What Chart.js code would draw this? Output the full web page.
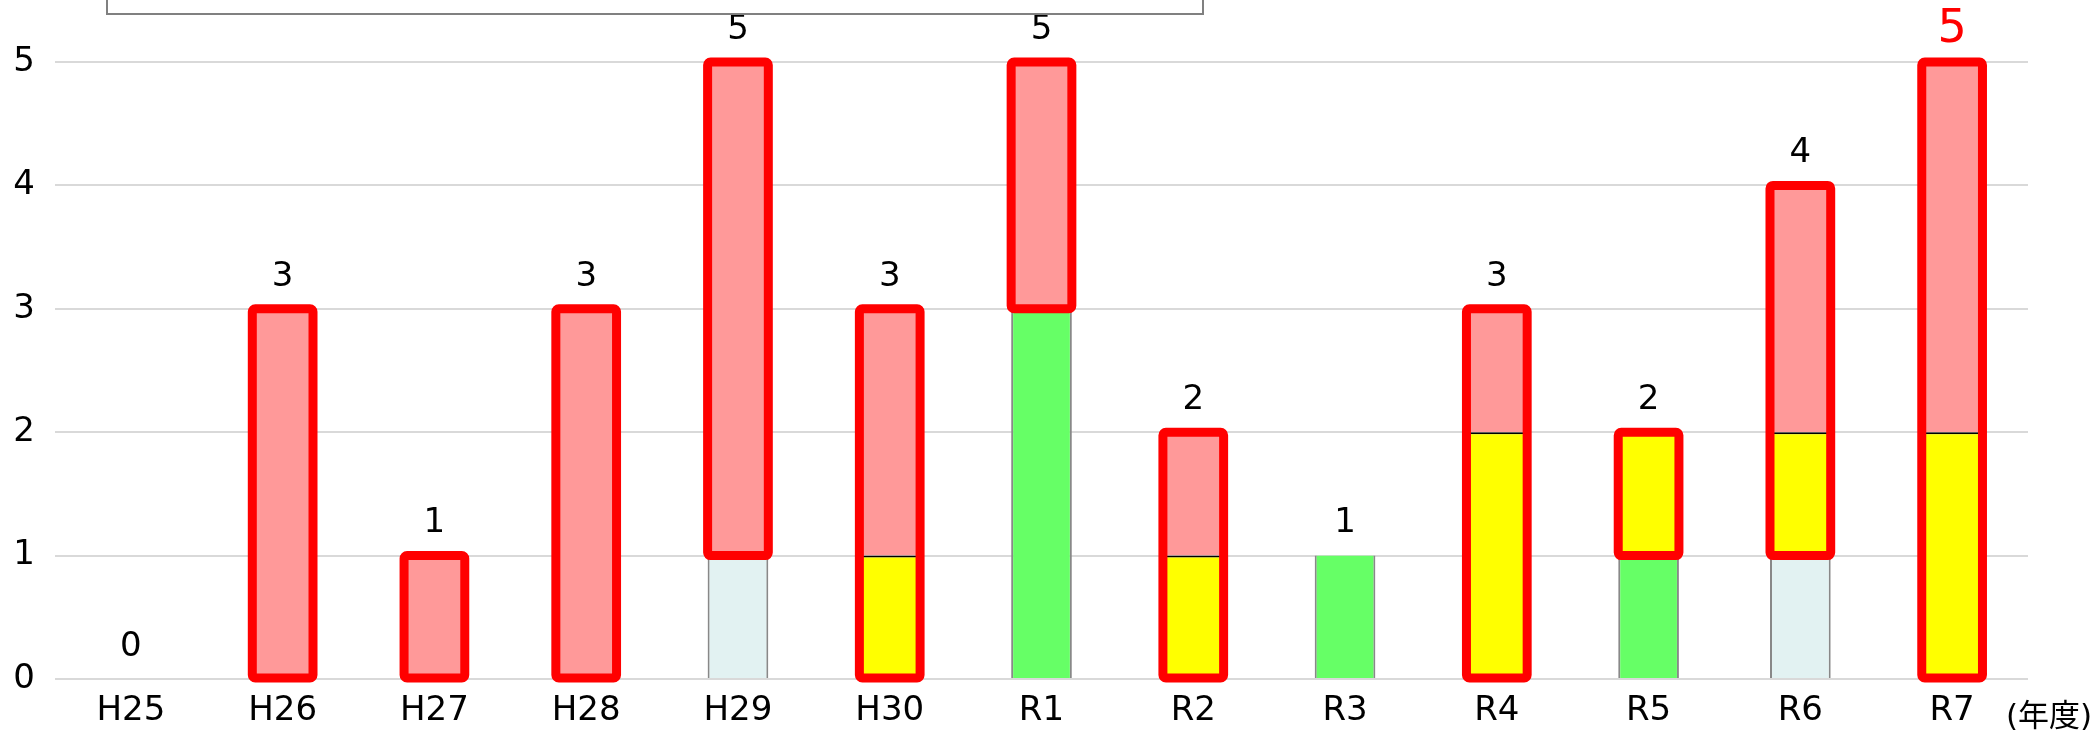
<!DOCTYPE html>
<html lang="ja">
<head>
<meta charset="utf-8">
<title>年度別件数</title>
<script src="https://cdn.jsdelivr.net/npm/chart.js@4/dist/chart.umd.min.js"></script>
<style>
  html, body { margin: 0; padding: 0; background: #fff; }
  #wrap { position: relative; width: 2096px; height: 731px; overflow: hidden; }
  #legend-box {
    position: absolute; left: 106px; top: -50px; width: 1094px; height: 61px;
    border: 2px solid #808080; background: #fff;
  }
</style>
</head>
<body>
<div id="wrap">
  <canvas id="chart"></canvas>
  <div id="legend-box"></div>
</div>
<script>
// 年度ごとの件数（積み上げ）
const years = ['H25', 'H26', 'H27', 'H28', 'H29', 'H30', 'R1', 'R2', 'R3', 'R4', 'R5', 'R6', 'R7'];
const cyanVals   = [0, 0, 0, 0, 1, 0, 0, 0, 0, 0, 0, 1, 0];
const greenVals  = [0, 0, 0, 0, 0, 0, 3, 0, 1, 0, 1, 0, 0];
const yellowVals = [0, 0, 0, 0, 0, 1, 0, 1, 0, 2, 1, 1, 2];
const pinkVals   = [0, 3, 1, 3, 4, 2, 2, 1, 0, 1, 0, 2, 3];
const yTicks = [0, 1, 2, 3, 4, 5];

const FONT = '"DejaVu Sans", "Noto Sans CJK JP", sans-serif';
const COLORS = {
  cyan: '#E2F2F2',
  green: '#66FF66',
  yellow: '#FFFF00',
  pink: '#FF9999',
  red: '#FF0000',
  grid: '#D9D9D9',
};

// 0 は描かない
const nz = arr => arr.map(v => (v === 0 ? null : v));

// 黄・ピンクの部分を赤枠で囲む
const outlinePlugin = {
  id: 'outline',
  afterDatasetsDraw(chart) {
    const ctx = chart.ctx;
    ctx.save();
    ctx.strokeStyle = COLORS.red;
    ctx.lineWidth = 9;
    ctx.lineJoin = 'round';
    years.forEach((_, i) => {
      let top = Infinity, bottom = -Infinity, left = 0, right = 0, found = false;
      chart.data.datasets.forEach((ds, di) => {
        if (!ds.outlined || !ds.data[i]) return;
        const el = chart.getDatasetMeta(di).data[i];
        top = Math.min(top, el.y);
        bottom = Math.max(bottom, el.base);
        left = el.x - el.width / 2;
        right = el.x + el.width / 2;
        found = true;
      });
      if (!found) return;
      ctx.beginPath();
      ctx.roundRect(left, top, right - left, bottom - top, 3);
      ctx.stroke();
    });
    ctx.restore();
  },
};

// 合計値ラベルと単位
const totalsPlugin = {
  id: 'totals',
  afterDraw(chart) {
    const ctx = chart.ctx;
    const y = chart.scales.y;
    const x = chart.scales.x;
    ctx.save();
    ctx.textAlign = 'center';
    ctx.textBaseline = 'middle';
    years.forEach((_, i) => {
      const total = cyanVals[i] + greenVals[i] + yellowVals[i] + pinkVals[i];
      const cx = x.getPixelForValue(i);
      const last = i === years.length - 1;
      ctx.fillStyle = last ? COLORS.red : '#000';
      ctx.font = (last ? '46px ' : '34px ') + FONT;
      ctx.fillText(String(total), cx, y.getPixelForValue(total) - (last ? 32 : 32));
    });
    ctx.fillStyle = '#000';
    ctx.font = '31px ' + FONT;
    ctx.textAlign = 'left';
    ctx.fillText('(年度)', chart.chartArea.right - 22, chart.chartArea.bottom + 39);
    ctx.restore();
  },
};

function buildChart() {
  const ctx = document.getElementById('chart').getContext('2d');
  return new Chart(ctx, {
    type: 'bar',
    data: {
      labels: years,
      datasets: [
        {
          data: nz(cyanVals), backgroundColor: COLORS.cyan,
          borderColor: '#888', borderWidth: { left: 2, right: 2, top: 0, bottom: 0 },
        },
        {
          data: nz(greenVals), backgroundColor: COLORS.green,
          borderColor: '#888', borderWidth: { left: 2, right: 2, top: 0, bottom: 0 },
        },
        {
          data: nz(yellowVals), backgroundColor: COLORS.yellow,
          borderColor: '#000', borderWidth: { left: 1, right: 1, top: 2, bottom: 0 }, outlined: true,
        },
        {
          data: nz(pinkVals), backgroundColor: COLORS.pink,
          borderColor: '#000', borderWidth: 1, outlined: true,
        },
      ],
    },
    options: {
      responsive: true,
      maintainAspectRatio: false,
      animation: false,
      layout: { padding: { top: 62, right: 68, bottom: 4, left: 0 } },
      datasets: { bar: { barPercentage: 0.4, categoryPercentage: 1 } },
      plugins: { legend: { display: false }, tooltip: { enabled: false } },
      scales: {
        x: {
          stacked: true,
          afterFit(axis) { axis.height = 48; },
          grid: { display: false },
          border: { display: false },
          ticks: { color: '#000', font: { family: FONT, size: 34 }, padding: 4, maxRotation: 0 },
        },
        y: {
          stacked: true,
          min: 0,
          max: 5,
          afterFit(axis) { axis.width = 55; },
          afterBuildTicks(axis) { axis.ticks = yTicks.map(v => ({ value: v })); },
          grid: { color: COLORS.grid, lineWidth: 2, drawTicks: false },
          border: { display: false },
          ticks: { color: '#000', font: { family: FONT, size: 34 }, padding: 20 },
        },
      },
    },
    plugins: [outlinePlugin, totalsPlugin],
  });
}

buildChart();
</script>
</body>
</html>
